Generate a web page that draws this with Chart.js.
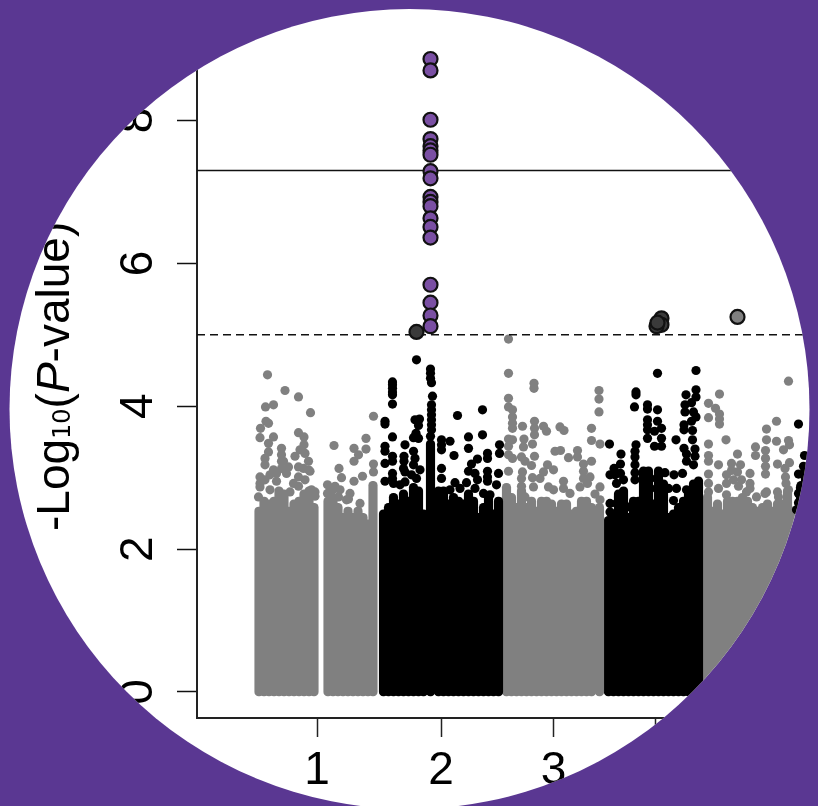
<!DOCTYPE html>
<html>
<head>
    <title>Manhattan plot</title>
    <script src="https://cdnjs.cloudflare.com/ajax/libs/Chart.js/4.4.1/chart.umd.min.js"></script>
    <style>
        body { margin: 0; background-color: #5a3792; overflow: hidden; }
        #wrap { width: 818px; height: 806px; clip-path: circle(400px at 409.5px 409px); background: #fff; }
        canvas { display: block; }
    </style>
</head>
<body>
<div id="wrap"><canvas id="manhattan" width="818" height="806"></canvas></div>
<script>
// x is cumulative genome position (Mb), y is -log10(p)
const tickPositions = [126, 374, 599, 802];
const tickLabels = ['1', '2', '3', '4'];
const yTicks = [0, 2, 4, 6, 8];

const genomeWide = 7.3;
const suggestive = 5;
const massFloor = -0.055;

// top of the solid mass of dots, column by column
const chr1MassX = [10, 20, 30, 40, 50, 60, 70, 80, 90, 100, 110, 120, 148, 158, 168, 178, 188, 198, 208, 218, 228, 238];
const chr1MassTop = [2.59, 2.73, 2.69, 2.73, 2.87, 2.83, 2.59, 2.69, 2.73, 2.83, 2.87, 2.64, 2.73, 2.78, 2.64, 2.50, 2.59, 2.50, 2.59, 2.50, 2.41, 2.95];
const chr2MassX = [259, 269, 279, 289, 299, 309, 319, 329, 339, 353, 369, 379, 389, 399, 409, 419, 429, 439, 449, 459, 469, 479, 489];
const chr2MassTop = [2.55, 2.64, 2.78, 2.69, 2.83, 2.73, 2.92, 2.87, 2.55, 3.53, 2.87, 2.87, 2.69, 2.78, 2.73, 2.69, 2.83, 2.73, 2.50, 2.64, 2.78, 2.55, 2.73];
const chr3MassX = [505, 515, 525, 535, 545, 555, 565, 575, 585, 595, 605, 615, 625, 635, 645, 655, 665, 675, 691];
const chr3MassTop = [2.92, 2.78, 2.64, 2.87, 2.64, 2.73, 2.59, 2.73, 2.73, 2.69, 2.59, 2.69, 2.69, 2.55, 2.59, 2.73, 2.73, 2.64, 2.64];
const chr4MassX = [709, 719, 729, 739, 749, 759, 769, 779, 789, 799, 809, 819, 829, 839, 849, 859, 869, 879, 889];
const chr4MassTop = [2.46, 2.55, 2.83, 2.87, 2.50, 2.73, 2.73, 3.15, 3.15, 2.69, 3.15, 2.97, 2.50, 2.55, 2.64, 2.73, 2.83, 2.97, 3.01];
const chr5MassX = [907, 917, 927, 937, 947, 957, 967, 977, 987, 997, 1007, 1017, 1027, 1037, 1047, 1057, 1067, 1077];
const chr5MassTop = [2.78, 2.59, 2.69, 2.55, 2.73, 2.73, 2.73, 2.78, 2.73, 2.64, 2.59, 2.64, 2.69, 2.59, 2.69, 2.69, 2.87, 2.59];
const chr6MassX = [1093, 1103, 1113];
const chr6MassTop = [2.92, 3.2, 3.2];

// single dots above the mass
const chr1Dots = [[27,4.44],[62,4.22],[89,4.13],[23,3.99],[39,4.02],[113,3.91],[24,3.79],[13,3.69],[29,3.76],[89,3.63],[12,3.56],[39,3.57],[100,3.57],[29,3.48],[100,3.46],[92,3.39],[55,3.41],[29,3.36],[55,3.32],[102,3.34],[22,3.27],[59,3.23],[82,3.30],[109,3.23],[22,3.18],[69,3.15],[89,3.15],[39,3.11],[112,3.09],[12,3.01],[89,3.01],[12,2.87],[115,2.83],[122,2.74],
    [12,2.92],[22,2.97],[32,3.04],[45,3.06],[55,3.13],[65,3.06],[79,2.92],[72,2.80],[89,2.88],[102,2.97],[109,3.11],[122,2.80],[9,2.73],[32,2.83],[45,2.95],[99,3.13],[55,3.23],
    [160,3.45],[224,3.55],[200,3.41],[224,3.40],[209,3.32],[200,3.23],[170,3.13],[239,3.86],[239,3.19],[239,3.08],[175,3.00],[217,3.02],[200,2.95],[147,2.90],[162,2.88],[172,2.83],[192,2.78],[189,2.70],[147,2.78],[158,2.83],[169,2.73],[185,2.69],[212,2.64]];
const chr2Dots = [[325,4.65],[277,4.34],[277,4.30],[277,4.25],[277,4.20],[277,4.16],[277,4.03],[353,4.52],[353,4.46],[353,4.39],[355,4.33],[357,4.14],[355,4.02],[355,3.95],[355,3.88],[355,3.81],[355,3.74],[355,3.67],[353,3.58],
    [262,3.79],[262,3.75],[322,3.81],[331,3.82],[329,3.73],[324,3.62],[319,3.56],[329,3.55],[277,3.57],[407,3.87],[457,3.95],[457,3.60],[375,3.53],[375,3.46],[375,3.39],[392,3.51],[302,3.46],[429,3.57],[429,3.41],[491,3.46],[491,3.34],[262,3.44],[262,3.37],[319,3.37],[400,3.31],[277,3.30],[300,3.30],[322,3.27],[467,3.34],[467,3.27],[447,3.26],[435,3.19],[262,3.20],[277,3.23],[300,3.23],[429,3.09],[375,3.13],[467,3.09],[467,3.01],[442,3.06],[489,3.06],[277,3.06],[299,3.13],[262,2.95],
    [279,2.92],[277,2.99],[292,2.90],[315,3.04],[325,2.99],[319,3.18],[332,3.11],[375,2.99],[402,2.93],[425,2.93],[447,2.97],[467,2.95],[485,2.90],[442,2.85],[459,2.78],[472,2.76],[302,2.94],[302,3.08],[392,2.83],[412,2.85]];
const chr3Dots = [[509,4.94],[509,4.46],[509,4.11],[509,3.99],[517,3.95],[517,3.85],[517,3.76],[517,3.69],[560,4.32],[560,4.25],[537,3.72],[561,3.79],[561,3.69],[561,3.60],[579,3.72],[585,3.65],[612,3.71],[620,3.66],[690,4.22],[690,4.10],[690,3.92],[675,3.69],[675,3.52],[692,3.47],[509,3.54],[517,3.53],[540,3.54],[557,3.47],[539,3.43],[509,3.44],[509,3.32],[517,3.27],[535,3.29],[561,3.30],[542,3.23],[555,3.17],[602,3.37],[613,3.38],[629,3.28],[647,3.38],[647,3.29],[659,3.19],[675,3.23],[659,3.09],[587,3.18],[599,3.11],[672,3.01],[619,2.95],[692,2.87],[682,2.77],
    [509,3.09],[537,3.08],[535,2.99],[535,2.88],[557,3.00],[572,2.99],[579,3.08],[589,2.87],[599,2.83],[619,2.85],[632,2.78],[652,2.87],[667,2.92],[659,2.99],[579,2.64],[542,2.73],[559,2.87],[692,2.69]];
const chr4Dots = [[711,3.47],[734,3.33],[807,4.46],[884,4.50],[764,4.20],[764,4.16],[761,3.99],[787,4.02],[787,3.96],[807,3.95],[884,4.23],[884,4.13],[864,4.16],[875,4.05],[862,4.02],[862,3.92],[879,3.92],[884,3.85],[875,3.79],[807,3.79],[815,3.69],[787,3.81],[787,3.74],[787,3.67],[860,3.74],[860,3.67],[801,3.65],[877,3.66],[787,3.55],[815,3.55],[844,3.53],[877,3.53],[764,3.46],[801,3.44],[815,3.44],[860,3.41],[882,3.40],[762,3.37],[865,3.33],[882,3.30],[762,3.29],[865,3.23],[879,3.18],[720,3.13],[733,3.19],[762,3.18],[722,3.04],[712,3.04],[762,3.07],[822,3.07],[840,3.04],[857,3.06],[725,2.92],[762,2.97],[805,2.99],[829,2.85],[845,2.85],[839,2.68],[712,2.64],[752,2.59],[712,2.52],[725,2.64],
    [725,3.06],[733,3.06],[739,2.97],[805,2.85],[865,2.83],[889,2.87],[729,2.73]];
const chr5Dots = [[1069,4.35],[931,4.17],[909,4.04],[923,3.97],[931,3.89],[931,3.82],[931,3.75],[909,3.84],[1045,3.79],[1025,3.68],[944,3.53],[909,3.47],[1025,3.53],[1045,3.51],[1069,3.52],[1071,3.46],[1059,3.39],[1003,3.43],[1023,3.38],[1003,3.31],[967,3.33],[909,3.31],[909,3.23],[1023,3.27],[929,3.18],[955,3.20],[973,3.18],[1047,3.19],[1023,3.16],[1071,3.21],[1062,3.13],[945,3.04],[955,3.10],[992,3.06],[909,3.05],[1023,3.05],[1063,3.01],[992,2.92],[909,2.92],[1064,2.92],[1022,2.78],[1047,2.80],
    [929,2.85],[945,2.92],[959,2.97],[975,2.97],[967,3.08],[945,2.76],[969,2.88],[985,2.80],[992,2.85],[1069,2.83],[909,2.80],[1005,2.73],[1025,2.80],[1049,2.73]];
const chr6Dots = [[1089,3.75],[1101,3.31],[1099,3.16],[1089,3.05],[1099,3.04],[1094,2.89],[1089,2.78],[1089,2.65],[1085,2.55]];

// highlighted hits
const hitX = 353;
const hitValues = [8.86, 8.70, 8.01, 7.74, 7.64, 7.58, 7.52, 7.29, 7.19, 6.93, 6.86, 6.80, 6.63, 6.51, 6.36, 5.70, 5.45, 5.27, 5.12];
const darkHits = [[325, 5.04], [815, 5.23], [815, 5.14], [805, 5.12], [807, 5.17]];
const grayHits = [[967, 5.25]];

const GRAY = '#808080';
const BLACK = '#000000';

function massDataset(xs, tops, color) {
    return {
        type: 'bar',
        data: xs.map((x, i) => ({ x: x, y: [massFloor, tops[i]] })),
        backgroundColor: color,
        barThickness: 8.5,
        borderRadius: 4.25,
        borderSkipped: false,
        grouped: false,
        order: 10
    };
}

function dotsDataset(dots, color) {
    return {
        type: 'scatter',
        data: dots.map(d => ({ x: d[0], y: d[1] })),
        backgroundColor: color,
        borderWidth: 0,
        pointRadius: 4.6,
        order: 9
    };
}

function hlineDataset(value, dash) {
    return {
        type: 'line',
        data: [{ x: -114, y: value }, { x: 1128, y: value }],
        borderColor: '#111111',
        borderWidth: 1.6,
        borderDash: dash,
        pointRadius: 0,
        order: 5
    };
}

function hitsDataset(points, fill) {
    return {
        type: 'scatter',
        data: points,
        backgroundColor: fill,
        borderColor: '#111111',
        borderWidth: 2.2,
        pointRadius: 7,
        order: 1
    };
}

// y axis title has an italic P and a subscript, so it is drawn in pieces
const axisTitle = {
    id: 'axisTitle',
    afterDraw(chart) {
        const ctx = chart.ctx;
        const runs = [
            { text: '-Log', font: '46px "Liberation Sans"', shift: 0 },
            { text: '10', font: '24px "DejaVu Sans"', shift: 1 },
            { text: '(', font: '46px "Liberation Sans"', shift: 0 },
            { text: 'P', font: 'italic 46px "Liberation Sans"', shift: 0 },
            { text: '-value)', font: '46px "Liberation Sans"', shift: 0 }
        ];
        ctx.save();
        ctx.translate(68.5, 531);
        ctx.rotate(-Math.PI / 2);
        ctx.fillStyle = '#000';
        ctx.textBaseline = 'alphabetic';
        let along = 0;
        runs.forEach(r => {
            ctx.font = r.font;
            ctx.fillText(r.text, along, r.shift);
            along += ctx.measureText(r.text).width;
        });
        ctx.restore();
    }
};

const ctx = document.getElementById('manhattan').getContext('2d');
new Chart(ctx, {
    data: {
        datasets: [
            massDataset(chr1MassX, chr1MassTop, GRAY),
            massDataset(chr2MassX, chr2MassTop, BLACK),
            massDataset(chr3MassX, chr3MassTop, GRAY),
            massDataset(chr4MassX, chr4MassTop, BLACK),
            massDataset(chr5MassX, chr5MassTop, GRAY),
            massDataset(chr6MassX, chr6MassTop, BLACK),
            dotsDataset(chr1Dots, GRAY),
            dotsDataset(chr2Dots, BLACK),
            dotsDataset(chr3Dots, GRAY),
            dotsDataset(chr4Dots, BLACK),
            dotsDataset(chr5Dots, GRAY),
            dotsDataset(chr6Dots, BLACK),
            hlineDataset(genomeWide, []),
            hlineDataset(suggestive, [8, 5]),
            hitsDataset(hitValues.map(v => ({ x: hitX, y: v })), '#7a4fa3'),
            hitsDataset(darkHits.map(d => ({ x: d[0], y: d[1] })), '#3a3a3a'),
            hitsDataset(grayHits.map(d => ({ x: d[0], y: d[1] })), GRAY)
        ]
    },
    plugins: [axisTitle],
    options: {
        responsive: false,
        animation: false,
        events: [],
        layout: { padding: 0, autoPadding: false },
        plugins: { legend: { display: false }, tooltip: { enabled: false } },
        scales: {
            x: {
                type: 'linear',
                offset: false,
                min: -114,
                max: 1128,
                afterFit(scale) {
                    scale.height = 88;
                    scale.paddingLeft = 0;
                    scale.paddingRight = 0;
                },
                afterBuildTicks(scale) { scale.ticks = tickPositions.map(v => ({ value: v })); },
                border: { display: true, color: '#222222', width: 2 },
                grid: { offset: false, drawOnChartArea: false, tickLength: 19, tickColor: '#222222', tickWidth: 1.5 },
                ticks: {
                    autoSkip: false,
                    maxRotation: 0,
                    padding: 7,
                    color: '#000',
                    font: { family: '"Liberation Sans"', size: 46 },
                    callback: (v) => tickLabels[tickPositions.indexOf(v)]
                }
            },
            y: {
                type: 'linear',
                min: -0.364,
                max: 9.686,
                afterFit(scale) {
                    scale.width = 197;
                    scale.paddingTop = 0;
                    scale.paddingBottom = 0;
                },
                afterBuildTicks(scale) { scale.ticks = yTicks.map(v => ({ value: v })); },
                border: { display: true, color: '#222222', width: 2 },
                grid: { drawOnChartArea: false, tickLength: 20, tickColor: '#111111', tickWidth: 1.5 },
                ticks: {
                    autoSkip: false,
                    minRotation: 90,
                    maxRotation: 90,
                    padding: 25,
                    crossAlign: 'center',
                    color: '#000',
                    font: { family: '"Liberation Sans"', size: 46 }
                }
            }
        }
    }
});
</script>
</body>
</html>
